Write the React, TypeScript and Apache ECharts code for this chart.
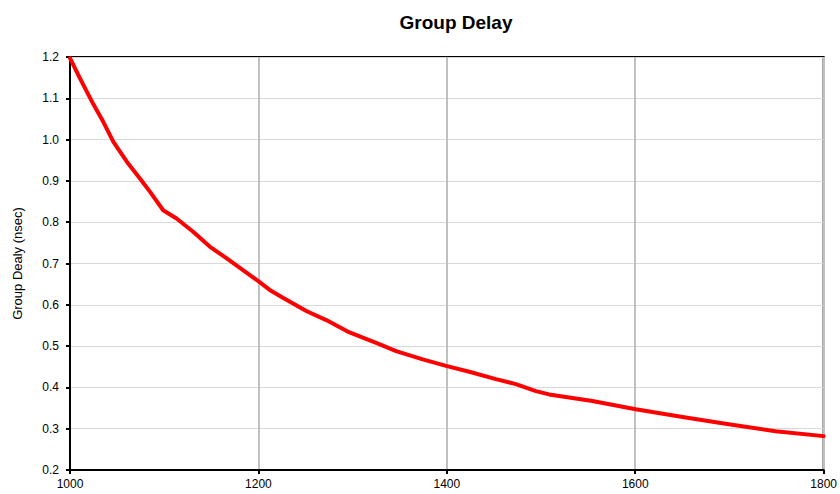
import React, { useEffect, useRef } from "react";
import * as echarts from "echarts";

const frequencies = [
  1000, 1010.6, 1024.7, 1035.3, 1045.9, 1060.1, 1074.2, 1084.8, 1098.9, 1113.1,
  1130.7, 1148.3, 1166, 1183.6, 1200.6, 1212, 1226, 1250.8, 1272, 1296.7, 1325,
  1346.2, 1374.4, 1399.2, 1423.8, 1452.1, 1473.3, 1494.5, 1508.6, 1519.2, 1554.5,
  1600.5, 1653.5, 1695.8, 1748.8, 1800,
];
const delays = [
  1.197, 1.148, 1.086, 1.043, 0.995, 0.947, 0.906, 0.874, 0.829, 0.809,
  0.777, 0.741, 0.713, 0.684, 0.656, 0.636, 0.617, 0.585, 0.563, 0.533, 0.508,
  0.488, 0.468, 0.452, 0.438, 0.42, 0.408, 0.391, 0.383, 0.379, 0.367,
  0.347, 0.327, 0.312, 0.294, 0.282,
];
const titleText = "Group Delay";
const yAxisName = "Group Dealy (nsec)";

export default function App() {
  const ref = useRef<HTMLDivElement>(null);
  useEffect(() => {
    if (!ref.current) return;
    const chart = echarts.init(ref.current, null, { renderer: "svg" });
    const font = "'Liberation Sans', Arial, sans-serif";
    chart.setOption({
      animation: false,
      backgroundColor: "#ffffff",
      title: {
        text: titleText,
        left: 451,
        top: 8,
        textAlign: "center",
        textStyle: { fontFamily: font, fontSize: 19, fontWeight: "bold", color: "#000" },
      },
      grid: {
        left: 70,
        right: 15,
        top: 57,
        bottom: 24,
        show: true,
        borderColor: "#000",
        borderWidth: 2,
        backgroundColor: "transparent",
      },
      xAxis: {
        type: "value",
        min: 1000,
        max: 1800,
        interval: 200,
        axisLine: { show: true, lineStyle: { color: "#000", width: 2 } },
        axisTick: { show: true, inside: false, length: 4, lineStyle: { color: "#000", width: 2 } },
        axisLabel: {
          fontFamily: font,
          fontSize: 12,
          color: "#000",
          margin: 8,
          formatter: (v: number) => String(v),
        },
        splitLine: { show: true, lineStyle: { color: "#c0c0c0", width: 2 } },
      },
      yAxis: {
        type: "value",
        min: 0.2,
        max: 1.2,
        interval: 0.1,
        name: yAxisName,
        nameLocation: "middle",
        nameGap: 46,
        nameTextStyle: { fontFamily: font, fontSize: 13, color: "#000" },
        axisLine: { show: true, lineStyle: { color: "#000", width: 2 } },
        axisTick: { show: true, inside: false, length: 4, lineStyle: { color: "#000", width: 2 } },
        axisLabel: {
          fontFamily: font,
          fontSize: 12,
          color: "#000",
          margin: 11,
          formatter: (v: number) => v.toFixed(1),
        },
        splitLine: { show: true, lineStyle: { color: "#d9d9d9", width: 1 } },
      },
      series: [
        {
          type: "line",
          data: frequencies.map((f, i) => [f, delays[i]]),
          showSymbol: false,
          symbol: "none",
          smooth: false,
          lineStyle: { color: "#ff0000", width: 4, join: "round", cap: "round" },
        },
      ],
    });
    return () => chart.dispose();
  }, []);
  return (
    <div
      ref={ref}
      style={{ position: "fixed", left: 0, top: 0, width: 840, height: 494 }}
    />
  );
}
